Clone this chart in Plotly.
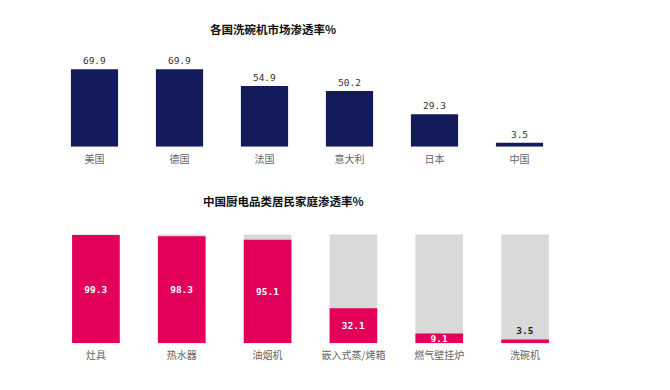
import plotly.graph_objects as go

# Top chart data
countries = ["美国", "德国", "法国", "意大利", "日本", "中国"]
country_rates = [69.9, 69.9, 54.9, 50.2, 29.3, 3.5]

# Bottom chart data
products = ["灶具", "热水器", "油烟机", "嵌入式蒸/烤箱", "燃气壁挂炉", "洗碗机"]
product_rates = [99.3, 98.3, 95.1, 32.1, 9.1, 3.5]
full_scale = [100, 100, 100, 100, 100, 100]

W, H = 670, 390
OFF = 8  # page body margin offset
NAVY = "#141B5B"
PINK = "#E3005A"
GREY = "#D9D9D9"
CJK = "Noto Sans CJK SC"
NUM = "DejaVu Sans Mono"


def px(v):
    return (v - OFF) / W


def py(v):
    return (H - (v - OFF)) / H


fig = go.Figure()

fig.add_trace(go.Bar(
    x=countries, y=country_rates, marker_color=NAVY, marker_line_width=0,
    text=[f"{v}" for v in country_rates], textposition="outside",
    textfont=dict(family=NUM, size=9.5, color="#333333"),
    cliponaxis=False, xaxis="x", yaxis="y", hoverinfo="skip",
))

fig.add_trace(go.Bar(
    x=products, y=full_scale, marker_color=GREY, marker_line_width=0,
    xaxis="x2", yaxis="y2", hoverinfo="skip",
))
fig.add_trace(go.Bar(
    x=products, y=product_rates, marker_color=PINK, marker_line_width=0,
    text=[f"<b>{v}</b>" for v in product_rates],
    textposition=["inside"] * 5 + ["outside"],
    insidetextanchor="middle",
    textfont=dict(family=NUM, size=9.5,
                  color=["white"] * 5 + ["#222222"]),
    cliponaxis=False, xaxis="x2", yaxis="y2", hoverinfo="skip",
))

tickfont = dict(family=CJK, size=10, color="#666666")

fig.update_layout(
    width=W, height=H,
    margin=dict(l=0, r=0, t=0, b=0),
    paper_bgcolor="white", plot_bgcolor="white",
    showlegend=False,
    barmode="overlay",
    bargap=0.445,
    uniformtext=dict(minsize=9, mode="show"),
    xaxis=dict(domain=[px(52), px(562)], anchor="y", showgrid=False,
               showline=False, zeroline=False, ticks="", tickfont=tickfont,
               ticklabelstandoff=5, automargin=False),
    yaxis=dict(domain=[py(146.7), py(58.1)], range=[0, 80],
               anchor="x", showgrid=False, showline=False, zeroline=False,
               showticklabels=False),
    xaxis2=dict(domain=[px(53), px(568)], anchor="y2", showgrid=False,
                showline=False, zeroline=False, ticks="", tickfont=tickfont,
                ticklabelstandoff=5, automargin=False),
    yaxis2=dict(domain=[py(343.3), py(234.3)], range=[0, 100],
                anchor="x2", showgrid=False, showline=False, zeroline=False,
                showticklabels=False),
    annotations=[
        dict(text="<b>各国洗碗机市场渗透率%</b>", x=px(273), y=py(28.5),
             xref="paper", yref="paper", showarrow=False,
             xanchor="center", yanchor="middle",
             font=dict(family=CJK, size=11.5, color="#111111")),
        dict(text="<b>中国厨电品类居民家庭渗透率%</b>", x=px(283.5), y=py(201),
             xref="paper", yref="paper", showarrow=False,
             xanchor="center", yanchor="middle",
             font=dict(family=CJK, size=11.5, color="#111111")),
    ],
)

fig.write_html("out.html")
